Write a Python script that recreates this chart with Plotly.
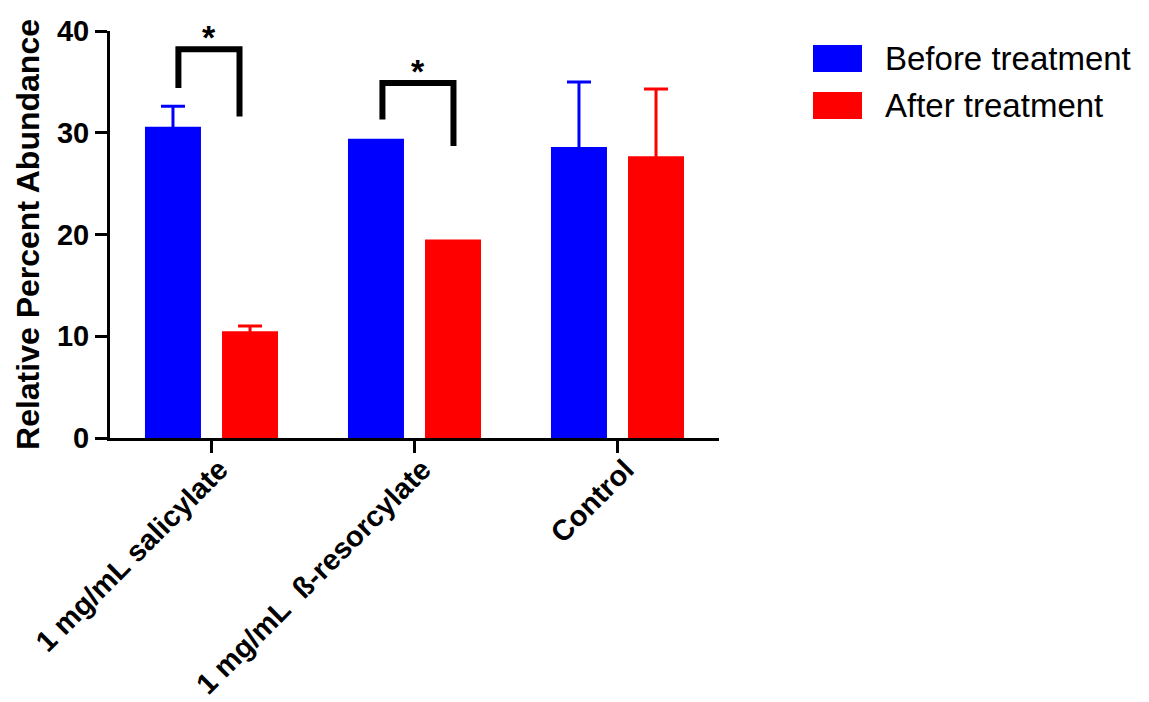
import plotly.graph_objects as go

# ---- data ----
categories = ["1 mg/mL salicylate", "1 mg/mL\u00a0 ß-resorcylate", "Control"]
before_mean = [30.6, 29.4, 28.6]
before_err = [2.0, None, 6.4]
after_mean = [10.5, 19.5, 27.7]
after_err = [0.5, None, 6.6]
series_names = ["Before treatment", "After treatment"]
series_colors = ["#0000FF", "#FF0000"]
y_ticks = [0, 10, 20, 30, 40]

# significance brackets: category index, left/right x offset, left foot, right foot, top, label
brackets = [
    dict(cat=0, xl=-0.163, xr=0.138, yl=34.4, yr=31.6, top=38.2, label="*"),
    dict(cat=1, xl=-0.158, xr=0.192, yl=31.3, yr=28.7, top=34.9, label="*"),
]

FONT = "Arial, Liberation Sans, sans-serif"
xs = list(range(len(categories)))

fig = go.Figure()
for name, means, errs, col in [
    (series_names[0], before_mean, before_err, series_colors[0]),
    (series_names[1], after_mean, after_err, series_colors[1]),
]:
    with_err = [i for i in xs if errs[i] is not None]
    without_err = [i for i in xs if errs[i] is None]
    fig.add_trace(go.Bar(
        x=with_err, y=[means[i] for i in with_err], name=name, offsetgroup=name,
        marker=dict(color=col, line=dict(width=0)),
        error_y=dict(type="data", array=[errs[i] for i in with_err], symmetric=True,
                     color=col, thickness=3, width=12, visible=True),
        showlegend=False,
    ))
    if without_err:
        fig.add_trace(go.Bar(
            x=without_err, y=[means[i] for i in without_err], name=name, offsetgroup=name,
            marker=dict(color=col, line=dict(width=0)), showlegend=False,
        ))

for b in brackets:
    fig.add_trace(go.Scatter(
        x=[b["cat"] + b["xl"], b["cat"] + b["xl"], b["cat"] + b["xr"], b["cat"] + b["xr"]],
        y=[b["yl"], b["top"], b["top"], b["yr"]],
        mode="lines", line=dict(color="black", width=6), showlegend=False,
        hoverinfo="skip", cliponaxis=False,
    ))
    fig.add_annotation(
        x=b["cat"] + (b["xl"] + b["xr"]) / 2, y=b["top"], xref="x", yref="y",
        text="<b>%s</b>" % b["label"], showarrow=False, yanchor="bottom", yshift=-9,
        font=dict(family=FONT, size=34, color="black"),
    )

# page body has an 8px margin, so the figure is drawn 8px smaller and offset
OFF = 8
W, H = 1149 - OFF, 702 - OFF
PL, PR, PT, PB = 110 - OFF, 719 - OFF, 31 - OFF, 438 - OFF

# manual legend (large swatches, as in the reference)
leg_x0, leg_x1, leg_tx = 813 - OFF, 862 - OFF, 883 - OFF
leg_rows = [(45 - OFF, 72 - OFF), (92 - OFF, 119 - OFF)]
for (y0, y1), name, col in zip(leg_rows, series_names, series_colors):
    fig.add_shape(type="rect", xref="paper", yref="paper",
                  x0=(leg_x0 - PL) / (PR - PL), x1=(leg_x1 - PL) / (PR - PL),
                  y0=(PB - y1) / (PB - PT), y1=(PB - y0) / (PB - PT),
                  fillcolor=col, line=dict(width=0))
    fig.add_annotation(xref="paper", yref="paper",
                       x=(leg_tx - PL) / (PR - PL), y=(PB - (y0 + y1) / 2) / (PB - PT),
                       xanchor="left", yanchor="middle", text=name, showarrow=False,
                       font=dict(family=FONT, size=33, color="black"))

fig.update_layout(
    width=W, height=H,
    margin=dict(l=PL, r=W - PR, t=PT, b=H - PB),
    plot_bgcolor="white", paper_bgcolor="white",
    barmode="group", bargap=0.241, bargroupgap=0.273,
    showlegend=False,
    font=dict(family=FONT, color="black"),
)
fig.update_xaxes(
    range=[-0.5, len(categories) - 0.5], automargin=False,
    tickmode="array", tickvals=xs, ticktext=["<b>%s</b>" % c for c in categories],
    tickangle=-45, tickfont=dict(family=FONT, size=29, color="black"),
    ticklabelstandoff=-12, ticklabelshift=8,
    showline=True, linecolor="black", linewidth=3,
    ticks="outside", ticklen=12, tickwidth=3, tickcolor="black",
    showgrid=False, zeroline=False,
)
fig.update_yaxes(
    range=[0, 40], tickvals=y_ticks, automargin=False,
    ticktext=["<b>%d</b>" % v for v in y_ticks],
    tickfont=dict(family=FONT, size=29, color="black"),
    showline=True, linecolor="black", linewidth=3,
    ticks="outside", ticklen=12, tickwidth=3, tickcolor="black",
    showgrid=False, zeroline=False,
    title=dict(text="<b>Relative Percent Abundance</b>", standoff=8,
               font=dict(family=FONT, size=32, color="black")),
)

fig.write_html("out.html")
